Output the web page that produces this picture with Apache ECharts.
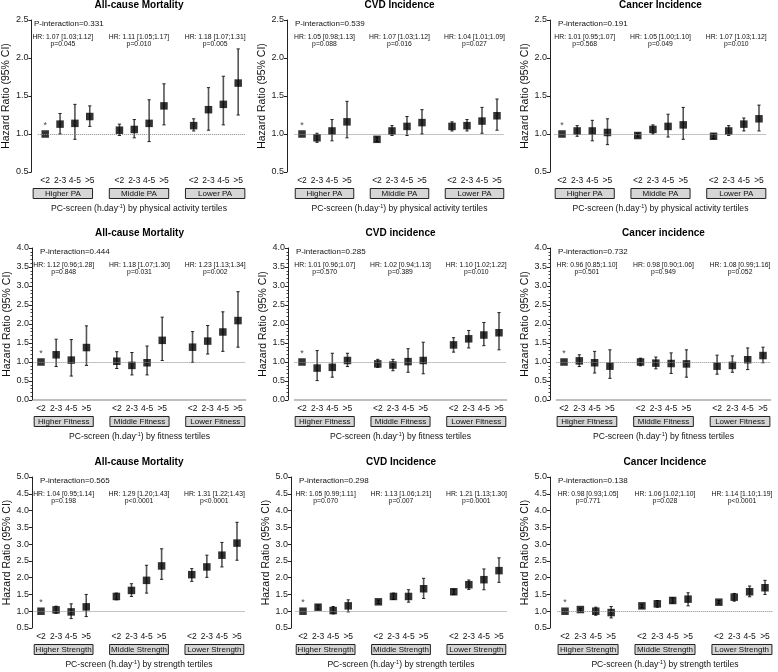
<!DOCTYPE html>
<html><head><meta charset="utf-8">
<script src="https://cdn.jsdelivr.net/npm/echarts@6/dist/echarts.min.js"></script>
<style>html,body{margin:0;padding:0;background:#fff}#c{width:778px;height:672px}</style>
</head><body><div id="c"></div>
<script>
// ---------- data ----------
const xLabels = ['<2', '2-3', '4-5', '>5'];
const groupNames = [
  ['Higher PA', 'Middle PA', 'Lower PA'],
  ['Higher Fitness', 'Middle Fitness', 'Lower Fitness'],
  ['Higher Strength', 'Middle Strength', 'Lower Strength']
];
const tertileBy = ['physical activity', 'fitness', 'strength'];
const panelTitles = [
  ['All-cause Mortality', 'CVD Incidence', 'Cancer Incidence'],
  ['All-cause Mortality', 'CVD incidence', 'Cancer incidence'],
  ['All-cause Mortality', 'CVD Incidence', 'Cancer Incidence']
];
const pInteraction = [['0.331', '0.539', '0.191'], ['0.444', '0.285', '0.732'], ['0.565', '0.298', '0.138']];
const hrLabels = [
  [['1.07 [1.03;1.12]', '1.11 [1.05;1.17]', '1.18 [1.07;1.31]'],
   ['1.05 [0.98;1.13]', '1.07 [1.03;1.12]', '1.04 [1.01;1.09]'],
   ['1.01 [0.95;1.07]', '1.05 [1.00;1.10]', '1.07 [1.03;1.12]']],
  [['1.12 [0.96;1.28]', '1.18 [1.07;1.30]', '1.23 [1.13;1.34]'],
   ['1.01 [0.96;1.07]', '1.02 [0.94;1.13]', '1.10 [1.02;1.22]'],
   ['0.96 [0.85;1.10]', '0.98 [0.90;1.06]', '1.08 [0.99;1.16]']],
  [['1.04 [0.95;1.14]', '1.29 [1.20;1.43]', '1.31 [1.22;1.43]'],
   ['1.05 [0.99;1.11]', '1.13 [1.06;1.21]', '1.21 [1.13;1.30]'],
   ['0.98 [0.93;1.05]', '1.06 [1.02;1.10]', '1.14 [1.10;1.19]']]
];
const pLabels = [
  [['p=0.045', 'p=0.010', 'p=0.005'], ['p=0.088', 'p=0.016', 'p=0.027'], ['p=0.568', 'p=0.049', 'p=0.010']],
  [['p=0.848', 'p=0.031', 'p=0.002'], ['p=0.570', 'p=0.389', 'p=0.010'], ['p=0.501', 'p=0.949', 'p=0.052']],
  [['p=0.198', 'p<0.0001', 'p<0.0001'], ['p=0.070', 'p=0.007', 'p=0.0001'], ['p=0.771', 'p=0.028', 'p<0.0001']]
];
const yRanges = [[0.5, 2.5], [0, 4], [0.5, 5]];

// row 1: physical activity
const estPaMort = [1.00, 1.13, 1.14, 1.23, 1.05, 1.06, 1.14, 1.37, 1.11, 1.32, 1.39, 1.67];
const loPaMort  = [null, 1.00, 0.93, 1.10, 0.98, 0.95, 0.90, 1.12, 1.04, 1.05, 1.12, 1.25];
const hiPaMort  = [null, 1.27, 1.39, 1.37, 1.13, 1.19, 1.45, 1.66, 1.20, 1.61, 1.76, 2.12];
const estPaCvd = [1.00, 0.95, 1.04, 1.16, 0.93, 1.04, 1.10, 1.15, 1.10, 1.11, 1.17, 1.24];
const loPaCvd  = [null, 0.89, 0.91, 0.95, 0.90, 0.98, 0.98, 1.00, 1.04, 1.04, 1.01, 1.05];
const hiPaCvd  = [null, 1.01, 1.19, 1.43, 0.96, 1.11, 1.23, 1.32, 1.16, 1.19, 1.35, 1.46];
const estPaCan = [1.00, 1.04, 1.04, 1.02, 0.98, 1.06, 1.10, 1.12, 0.97, 1.04, 1.13, 1.20];
const loPaCan  = [null, 0.97, 0.91, 0.86, 0.96, 1.00, 0.96, 0.93, 0.94, 0.98, 1.04, 1.04];
const hiPaCan  = [null, 1.11, 1.18, 1.20, 1.01, 1.12, 1.26, 1.35, 1.00, 1.11, 1.21, 1.38];
// row 2: fitness
const estFitMort = [1.00, 1.19, 1.05, 1.38, 1.02, 0.91, 0.98, 1.57, 1.39, 1.55, 1.79, 2.09];
const loFitMort  = [null, 0.88, 0.63, 0.91, 0.83, 0.66, 0.66, 1.04, 0.99, 1.21, 1.28, 1.39];
const hiFitMort  = [null, 1.60, 1.59, 1.95, 1.27, 1.25, 1.42, 2.18, 1.80, 1.96, 2.32, 2.85];
const estFitCvd = [1.00, 0.84, 0.86, 1.04, 0.95, 0.92, 1.01, 1.04, 1.45, 1.61, 1.71, 1.77];
const loFitCvd  = [null, 0.51, 0.60, 0.88, 0.86, 0.77, 0.73, 0.69, 1.26, 1.37, 1.43, 1.32];
const hiFitCvd  = [null, 1.30, 1.23, 1.23, 1.07, 1.07, 1.35, 1.52, 1.64, 1.83, 2.04, 2.30];
const estFitCan = [1.00, 1.03, 0.98, 0.89, 1.00, 0.97, 0.96, 0.95, 0.89, 0.91, 1.06, 1.17];
const loFitCan  = [null, 0.88, 0.71, 0.57, 0.90, 0.82, 0.70, 0.60, 0.68, 0.73, 0.80, 0.98];
const hiFitCan  = [null, 1.19, 1.28, 1.32, 1.10, 1.13, 1.24, 1.32, 1.18, 1.16, 1.37, 1.39];
// row 3: strength
const estStrMort = [1.00, 1.04, 0.98, 1.13, 1.44, 1.62, 1.92, 2.35, 2.09, 2.32, 2.67, 3.03];
const loStrMort  = [null, 0.94, 0.78, 0.84, 1.34, 1.44, 1.54, 1.95, 1.89, 2.01, 2.32, 2.52];
const hiStrMort  = [null, 1.15, 1.22, 1.50, 1.54, 1.82, 2.37, 2.86, 2.27, 2.67, 3.05, 3.65];
const estStrCvd = [1.00, 1.12, 1.02, 1.16, 1.28, 1.44, 1.44, 1.67, 1.58, 1.79, 1.94, 2.21];
const loStrCvd  = [null, 1.06, 0.92, 0.98, 1.23, 1.35, 1.27, 1.38, 1.50, 1.65, 1.64, 1.86];
const hiStrCvd  = [null, 1.18, 1.14, 1.34, 1.33, 1.54, 1.64, 1.98, 1.65, 1.93, 2.26, 2.59];
const estStrCan = [1.00, 1.05, 1.00, 0.96, 1.16, 1.22, 1.32, 1.36, 1.27, 1.42, 1.58, 1.70];
const loStrCan  = [null, 1.01, 0.88, 0.80, 1.10, 1.12, 1.24, 1.16, 1.22, 1.30, 1.43, 1.50];
const hiStrCan  = [null, 1.09, 1.12, 1.14, 1.21, 1.32, 1.40, 1.55, 1.32, 1.53, 1.75, 1.92];

const estAll = [[estPaMort, estPaCvd, estPaCan], [estFitMort, estFitCvd, estFitCan], [estStrMort, estStrCvd, estStrCan]];
const loAll = [[loPaMort, loPaCvd, loPaCan], [loFitMort, loFitCvd, loFitCan], [loStrMort, loStrCvd, loStrCan]];
const hiAll = [[hiPaMort, hiPaCvd, hiPaCan], [hiFitMort, hiFitCvd, hiFitCan], [hiStrMort, hiStrCvd, hiStrCan]];

// ---------- layout ----------
const FONT = 'Liberation Sans, Arial, Helvetica, sans-serif';
const rowTB = [[20, 172], [248, 400], [477, 628]];
const rowMinor = [false, true, false];
const rowBaseLine = [false, true, false];
// [y-axis line x, first point x, last point x]
const colX = [
  [[26, 40, 238], [287, 302, 497], [550, 562, 759]],
  [[32, 41, 238], [288, 302, 499], [550, 564, 763]],
  [[32, 41, 237], [291, 303, 499], [550, 565, 765]]
];

const cats = [];
for (let g = 0; g < 3; g++) {
  xLabels.forEach(l => cats.push(l));
  if (g < 2) cats.push('');
}
const slot = (g, j) => g * 5 + j;

const grids = [], xAxes = [], yAxes = [], series = [], graphics = [];
const txt = (o) => Object.assign({fontFamily: FONT, fill: '#111'}, o);

for (let r = 0; r < 3; r++) {
  for (let c = 0; c < 3; c++) {
    const k = r * 3 + c;
    const [axisX, firstX, lastX] = colX[r][c];
    const [top, bottom] = rowTB[r];
    const w = (lastX - firstX) / 13;
    const left = firstX - w / 2;
    const width = 14 * w;
    grids.push({left: left, top: top, width: width, height: bottom - top});
    xAxes.push({
      gridIndex: k, type: 'category', data: cats, boundaryGap: true,
      axisLine: {show: rowBaseLine[r], lineStyle: {color: '#aaa', width: 1.5}},
      axisTick: {show: false}, splitLine: {show: false},
      axisLabel: {interval: 0, fontSize: 8.5, color: '#111', margin: 4, fontFamily: FONT}
    });
    yAxes.push({
      gridIndex: k, type: 'value', min: yRanges[r][0], max: yRanges[r][1], interval: 0.5,
      offset: left - axisX,
      axisLine: {show: true, lineStyle: {color: '#222', width: 1}},
      axisTick: {show: true, length: 3, lineStyle: {color: '#222'}},
      minorTick: {show: rowMinor[r], splitNumber: 5, length: 1.5, lineStyle: {color: '#444'}},
      splitLine: {show: false},
      axisLabel: {fontSize: 9, color: '#222', margin: 3, fontFamily: FONT, formatter: v => v.toFixed(1)},
      name: 'Hazard Ratio (95% CI)', nameLocation: 'middle', nameGap: 15,
      nameTextStyle: {fontSize: 10.5, color: '#111', fontFamily: FONT}
    });
    const est = estAll[r][c], lo = loAll[r][c], hi = hiAll[r][c];
    const pts = [], bars = [];
    for (let g = 0; g < 3; g++) {
      for (let j = 0; j < 4; j++) {
        const i = g * 4 + j;
        const item = {value: [slot(g, j), est[i]]};
        if (lo[i] == null) {
          item.label = {show: true, formatter: '*', position: 'top', distance: 0, fontSize: 9, color: '#111'};
        } else {
          bars.push([slot(g, j), est[i], lo[i], hi[i]]);
        }
        pts.push(item);
      }
    }
    series.push({
      type: 'custom', xAxisIndex: k, yAxisIndex: k, z: 2, silent: true,
      encode: {x: 0, y: [2, 3]},
      data: bars,
      renderItem: (params, api) => {
        const x = api.value(0);
        const pLo = api.coord([x, api.value(2)]);
        const pHi = api.coord([x, api.value(3)]);
        const cap = 1.6;
        return {type: 'group', children: [
          {type: 'line', shape: {x1: pLo[0], y1: pLo[1], x2: pHi[0], y2: pHi[1]}, style: {stroke: '#555', lineWidth: 1.6}},
          {type: 'line', shape: {x1: pLo[0] - cap, y1: pLo[1], x2: pLo[0] + cap, y2: pLo[1]}, style: {stroke: '#222', lineWidth: 1}},
          {type: 'line', shape: {x1: pHi[0] - cap, y1: pHi[1], x2: pHi[0] + cap, y2: pHi[1]}, style: {stroke: '#222', lineWidth: 1}}
        ]};
      }
    });
    series.push({
      type: 'scatter', xAxisIndex: k, yAxisIndex: k, z: 3, silent: true,
      symbol: 'rect', symbolSize: 7.5, itemStyle: {color: '#000'},
      data: pts,
      markLine: {
        silent: true, symbol: 'none', label: {show: false},
        lineStyle: {type: 'dotted', color: '#888', width: 1},
        data: [{yAxis: 1}]
      }
    });

    // annotations
    const cx = i => left + (i + 0.5) * w;
    const midX = left + width / 2;
    graphics.push({type: 'text', silent: true, style: txt({
      text: panelTitles[r][c], x: midX, y: top - 15, fontSize: 10, fontWeight: 'bold', fill: '#000',
      align: 'center', verticalAlign: 'middle', textAlign: 'center', textVerticalAlign: 'middle'})});
    graphics.push({type: 'text', silent: true, style: txt({
      text: 'P-interaction=' + pInteraction[r][c], x: axisX + 8, y: top + 4, fontSize: 8,
      align: 'left', verticalAlign: 'middle', textAlign: 'left', textVerticalAlign: 'middle'})});
    for (let g = 0; g < 3; g++) {
      const gx = (cx(slot(g, 1)) + cx(slot(g, 2))) / 2;
      graphics.push({type: 'text', silent: true, style: txt({
        text: 'HR: ' + hrLabels[r][c][g], x: gx, y: top + 17, fontSize: 6.8,
        align: 'center', verticalAlign: 'middle', textAlign: 'center', textVerticalAlign: 'middle'})});
      graphics.push({type: 'text', silent: true, style: txt({
        text: pLabels[r][c][g], x: gx, y: top + 24, fontSize: 6.8,
        align: 'center', verticalAlign: 'middle', textAlign: 'center', textVerticalAlign: 'middle'})});
      const bw = 3.9 * w, bh = 10;
      graphics.push({type: 'rect', silent: true,
        shape: {x: gx - bw / 2, y: bottom + 16.5, width: bw, height: bh},
        style: {fill: '#d6d6d6', stroke: '#222', lineWidth: 1}});
      graphics.push({type: 'text', silent: true, style: txt({
        text: groupNames[r][g], x: gx, y: bottom + 21.5, fontSize: 8,
        align: 'center', verticalAlign: 'middle', textAlign: 'center', textVerticalAlign: 'middle'})});
    }
    graphics.push({type: 'text', silent: true, style: {
      text: '{a|PC-screen (h.day}{s|-1}{a|) by ' + tertileBy[r] + ' tertiles}',
      x: midX, y: bottom + 37, align: 'center', verticalAlign: 'middle',
      textAlign: 'center', textVerticalAlign: 'middle',
      rich: {
        a: {fontSize: 8.6, fontFamily: FONT, fill: '#111', lineHeight: 12},
        s: {fontSize: 5.5, fontFamily: FONT, fill: '#111', lineHeight: 7, verticalAlign: 'top'}
      }
    }});
  }
}

const chart = echarts.init(document.getElementById('c'), null, {renderer: 'canvas'});
chart.setOption({
  animation: false,
  backgroundColor: '#fff',
  grid: grids, xAxis: xAxes, yAxis: yAxes, series: series,
  graphic: {elements: graphics}
});
</script>
</body></html>
